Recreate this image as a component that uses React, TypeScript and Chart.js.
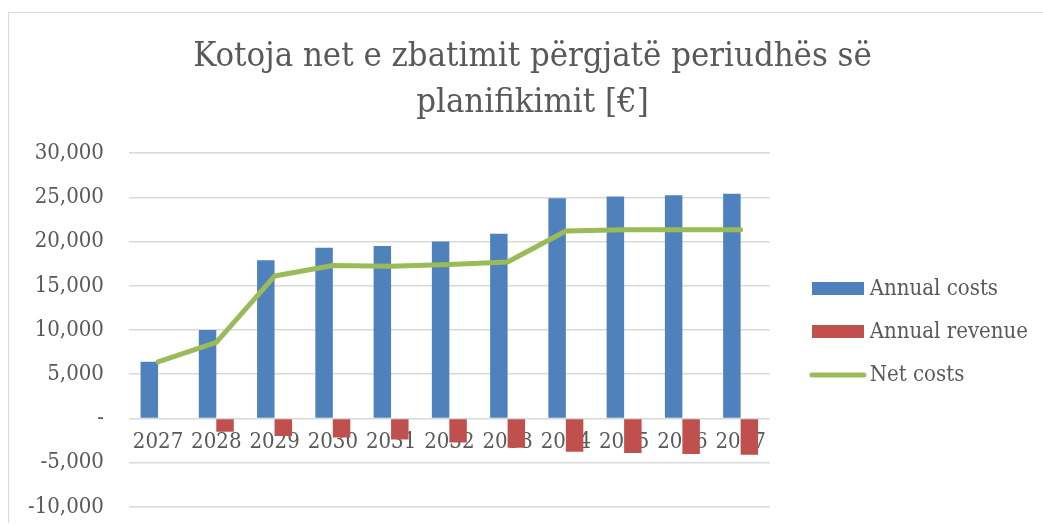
import React, { useEffect, useRef } from "react";
import { Chart, registerables } from "chart.js";

Chart.register(...registerables);

const titleLines = ["Kotoja net e zbatimit përgjatë periudhës së", "planifikimit [€]"];
const categories = ["2027", "2028", "2029", "2030", "2031", "2032", "2033", "2034", "2035", "2036", "2037"];
const annualCosts = [6400, 10000, 17900, 19300, 19500, 20000, 20900, 24900, 25100, 25250, 25400];
const annualRevenue = [null, -1500, -2000, -2150, -2380, -2720, -3320, -3780, -3925, -4040, -4120];
const netCosts = [6400, 8600, 16100, 17300, 17200, 17400, 17700, 21200, 21350, 21350, 21350];
const seriesNames = ["Annual costs", "Annual revenue", "Net costs"];

const FONT = "'DejaVu Serif Condensed', 'DejaVu Serif', serif";
const TEXT = "#595959";
const BLUE = "#4F81BD";
const RED = "#C0504D";
const GREEN = "#9BBB59";
const LEGEND_SHIFT_X = 26;
const LEGEND_SHIFT_Y = 2;
const TITLE_SHIFT_X = 25;

const boxShift = {
  id: "boxShift",
  afterLayout(chart: any) {
    if (chart.legend) {
      chart.legend.left += LEGEND_SHIFT_X;
      chart.legend.right += LEGEND_SHIFT_X;
      chart.legend.top += LEGEND_SHIFT_Y;
      chart.legend.bottom += LEGEND_SHIFT_Y;
    }
    if (chart.titleBlock) {
      chart.titleBlock.left += TITLE_SHIFT_X;
      chart.titleBlock.right += TITLE_SHIFT_X;
    }
  },
};

function rectSwatch(color: string) {
  const c = document.createElement("canvas");
  c.width = 52;
  c.height = 13;
  const ctx = c.getContext("2d")!;
  ctx.fillStyle = color;
  ctx.fillRect(0, 0, 52, 13);
  return c;
}

function lineSwatch(color: string) {
  const c = document.createElement("canvas");
  c.width = 58;
  c.height = 6;
  const ctx = c.getContext("2d")!;
  ctx.strokeStyle = color;
  ctx.lineWidth = 5;
  ctx.lineCap = "round";
  ctx.beginPath();
  ctx.moveTo(3, 3);
  ctx.lineTo(55, 3);
  ctx.stroke();
  return c;
}

export default function App() {
  const ref = useRef<HTMLCanvasElement | null>(null);
  useEffect(() => {
    document.body.style.margin = "0";
    const canvas = ref.current;
    if (!canvas) return;
    const swatches = [rectSwatch(BLUE), rectSwatch(RED), lineSwatch(GREEN)];
    const chart = new Chart(canvas, {
      type: "bar",
      data: {
        labels: categories,
        datasets: [
          { label: seriesNames[0], data: annualCosts, backgroundColor: BLUE, order: 1, categoryPercentage: 0.6, barPercentage: 1 } as any,
          { label: seriesNames[1], data: annualRevenue, backgroundColor: RED, order: 1, categoryPercentage: 0.6, barPercentage: 1 } as any,
          {
            type: "line",
            label: seriesNames[2],
            data: netCosts,
            borderColor: GREEN,
            backgroundColor: GREEN,
            borderWidth: 5,
            pointRadius: 0,
            pointHoverRadius: 0,
            tension: 0,
            borderCapStyle: "round",
            borderJoinStyle: "round",
            order: 0,
          } as any,
        ],
      },
      plugins: [boxShift],
      options: {
        responsive: false,
        animation: false,
        layout: { padding: { left: -6, right: 31, top: 0, bottom: 0 } },
        plugins: {
          title: {
            display: true,
            text: titleLines,
            color: TEXT,
            font: { family: FONT, size: 34.4, weight: "normal", lineHeight: 1.34 },
            padding: { top: 21, bottom: 27 },
          },
          legend: {
            position: "right",
            fullSize: false,
            labels: {
              usePointStyle: true,
              pointStyleWidth: 42,
              boxHeight: 13,
              padding: 21,
              color: TEXT,
              font: { family: FONT, size: 22 },
              sort: (a: any, b: any) => a.datasetIndex - b.datasetIndex,
              generateLabels: (c: any) => {
                const items = (Chart.defaults.plugins.legend.labels as any).generateLabels(c);
                return items.map((it: any) => ({ ...it, pointStyle: swatches[it.datasetIndex], lineWidth: 0 }));
              },
            },
          },
          tooltip: { enabled: false },
        },
        scales: {
          x: {
            position: { y: 0 } as any,
            z: 1,
            grid: { display: false },
            border: { display: false },
            ticks: { color: TEXT, font: { family: FONT, size: 22 }, padding: 3, maxRotation: 0, autoSkip: false },
          },
          y: {
            min: -10000,
            max: 30000,
            grid: { color: "#d9d9d9", lineWidth: 1.5, drawTicks: false },
            border: { display: false },
            ticks: {
              stepSize: 5000,
              color: TEXT,
              font: { family: FONT, size: 22 },
              padding: 25,
              callback: (v: any) => (Number(v) === 0 ? "-" : Number(v).toLocaleString("en-US")),
            },
          },
        },
      },
    });
    return () => chart.destroy();
  }, []);
  return (
    <div style={{ paddingTop: 12, paddingLeft: 8, width: 1043, boxSizing: "border-box" }}>
      <div style={{ width: 1035, height: 511, overflow: "hidden", borderTop: "1px solid #d9d9d9", borderLeft: "1px solid #d9d9d9", boxSizing: "border-box" }}>
        <canvas ref={ref} width={1034} height={532} style={{ display: "block" }} />
      </div>
    </div>
  );
}
